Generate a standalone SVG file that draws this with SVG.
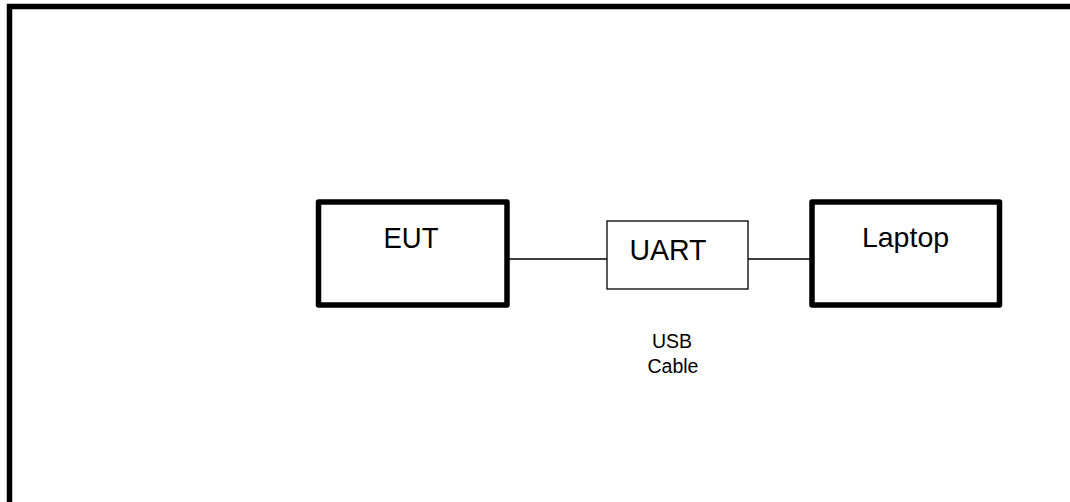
<svg xmlns="http://www.w3.org/2000/svg" width="1070" height="502" viewBox="0 0 1070 502">
<style>
.thick{fill:#fff;stroke:#000;stroke-width:5.5;stroke-linejoin:round}
.thin{fill:#fff;stroke:#000;stroke-width:1.3}
.wire{stroke:#000;stroke-width:1.3;fill:none}
.lbl{font-family:"Liberation Sans",Arial,sans-serif;fill:#000}
</style>
<rect width="1070" height="502" fill="#fff"/>
<g id="frame"><path d="M9.5 510 V6.5 H1080" fill="none" stroke="#000" stroke-width="5.5"/></g>
<g id="connectors">
<line class="wire" x1="509" y1="259" x2="607" y2="259"/>
<line class="wire" x1="748" y1="259" x2="810" y2="259"/>
</g>
<g id="eut"><rect class="thick" x="318.5" y="202" width="188.5" height="103"/><text class="lbl" x="411" y="248.5" font-size="27.5" text-anchor="middle" transform="translate(0,248.5) scale(1,1.08) translate(0,-248.5)">EUT</text></g>
<g id="uart"><rect class="thin" x="607" y="221" width="141" height="68"/><text class="lbl" x="668" y="260" font-size="28.5" text-anchor="middle" transform="translate(0,260) scale(1,1.05) translate(0,-260)">UART</text></g>
<g id="laptop"><rect class="thick" x="812" y="202" width="187.5" height="103"/><text class="lbl" x="905.5" y="247" font-size="28.5" text-anchor="middle">Laptop</text></g>
<g id="usb-label"><text class="lbl" font-size="19.5" text-anchor="middle"><tspan x="672" y="348">USB</tspan><tspan x="673" y="373">Cable</tspan></text></g>
</svg>
